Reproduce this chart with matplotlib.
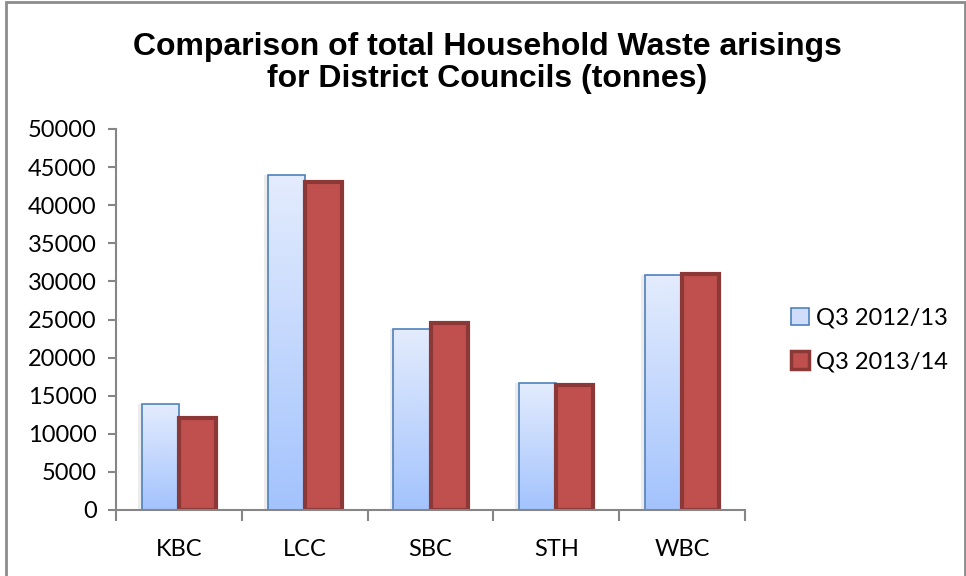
import numpy as np
import matplotlib.pyplot as plt
from matplotlib.patches import Patch, Rectangle
from matplotlib.colors import LinearSegmentedColormap

# data
councils = ['KBC', 'LCC', 'SBC', 'STH', 'WBC']
q3_2012 = [13900, 43900, 23800, 16700, 30800]
q3_2013 = [12100, 43000, 24600, 16400, 31000]
series_names = ['Q3 2012/13', 'Q3 2013/14']
y_ticks = [0, 5000, 10000, 15000, 20000, 25000, 30000, 35000, 40000, 45000, 50000]

blue_edge = '#4f81bd'
red_face = '#c0504d'
red_edge = '#8c3836'
axis_grey = '#868686'
label_font = ['Lato', 'DejaVu Sans']

fig = plt.figure(figsize=(9.66, 5.76), dpi=100)
ax = fig.add_axes([116/966, 1 - 510/576, (745 - 116)/966, (510 - 129)/576])

x = np.arange(len(councils))
w = 0.295

# faint shadow behind the light bars
ax.bar(x - w/2 - 0.03, q3_2012, w, color='#ececec', edgecolor='none', zorder=1)
blue_bars = ax.bar(x - w/2, q3_2012, w, facecolor='none', edgecolor=blue_edge,
                   linewidth=1.2, zorder=3)
red_bars = ax.bar(x + w/2, q3_2013, w, facecolor=red_face, edgecolor=red_edge,
                  linewidth=3, zorder=4)

# vertical gradient fill inside the light bars (light at top, deeper at base)
grad = np.linspace(0, 1, 256).reshape(-1, 1)
cmap = LinearSegmentedColormap.from_list('bluegrad', ['#e4ecfd', '#a3c3fd'])
for b in blue_bars:
    x0, h, bw = b.get_x(), b.get_height(), b.get_width()
    im = ax.imshow(grad, cmap=cmap, aspect='auto', extent=[x0, x0 + bw, 0, h],
                   origin='upper', zorder=2)
    im.set_clip_path(Rectangle((x0, 0), bw, h, transform=ax.transData))

ax.set_xlim(-0.5, len(councils) - 0.5)
ax.set_ylim(0, 50000)
ax.set_yticks(y_ticks)
ax.set_yticklabels([str(v) for v in y_ticks], fontsize=17, family=label_font)
ax.set_xticks(np.arange(len(councils) + 1) - 0.5)
ax.set_xticklabels([])
ax.set_xticks(x, minor=True)
ax.set_xticklabels(councils, minor=True, fontsize=17, family=label_font)
ax.tick_params(axis='x', which='major', length=8, width=1.5, color=axis_grey, direction='out')
ax.tick_params(axis='x', which='minor', length=0, pad=21)
ax.tick_params(axis='y', length=6, width=1.5, color=axis_grey, pad=8)

for s in ['top', 'right']:
    ax.spines[s].set_visible(False)
for s in ['left', 'bottom']:
    ax.spines[s].set_color(axis_grey)
    ax.spines[s].set_linewidth(1.5)
ax.spines['bottom'].set_zorder(6)

fig.text(487/966, 1 - 63/576,
         'Comparison of total Household Waste arisings\nfor District Councils (tonnes)',
         ha='center', va='center', fontsize=23, fontweight='bold',
         family='Liberation Sans', linespacing=1.05)

handles = [Patch(facecolor='#cfdcfa', edgecolor=blue_edge, linewidth=1.2),
           Patch(facecolor=red_face, edgecolor=red_edge, linewidth=2.5)]
fig.legend(handles, series_names, loc='center left',
           bbox_to_anchor=(770/966, 1 - 340/576), frameon=False,
           prop={'family': label_font, 'size': 17}, handlelength=0.75,
           handleheight=0.75, handletextpad=0.3, labelspacing=0.95)

# outer chart border
fig.patches.append(Rectangle((6/966, -0.05), (965 - 6)/966, 1.05 - 1.5/576,
                             transform=fig.transFigure, fill=False,
                             edgecolor='#8c8c8c', linewidth=2))

fig.savefig('out.png', dpi=100)
